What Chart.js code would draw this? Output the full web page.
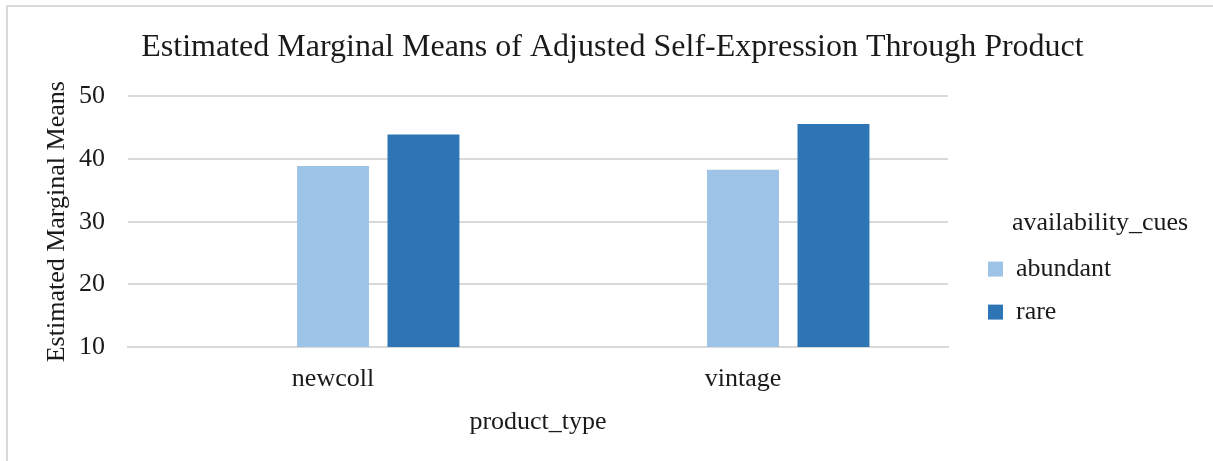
<!DOCTYPE html>
<html>
<head>
<meta charset="utf-8">
<script src="https://cdn.jsdelivr.net/npm/chart.js@4.4.1/dist/chart.umd.min.js"></script>
<style>
  html, body { margin: 0; padding: 0; background: #fff; }
  #wrap { position: relative; width: 1213px; height: 461px; }
  #frame { position: absolute; left: 6px; top: 5px; right: -10px; bottom: -10px;
           border-left: 2px solid #d9d9d9; border-top: 2px solid #d9d9d9; }
  canvas { position: absolute; left: 0; top: 0; }
</style>
</head>
<body>
<div id="wrap">
  <div id="frame"></div>
  <canvas id="chart" width="1213" height="461"></canvas>
</div>
<script>
const productTypes = ['newcoll', 'vintage'];
const abundant = [38.9, 38.3];
const rare = [43.9, 45.6];
// Excel left an empty first slot in each group
const spacer = [null, null];
const yTicks = [10, 20, 30, 40, 50];

const serif = "'Liberation Serif', 'Times New Roman', serif";
const textColor = '#1a1a1a';

// legend sits a bit right of the plot, title centred over the items
const legendPlacement = {
    id: 'legendPlacement',
    afterInit(chart) {
        const legend = chart.legend;
        const origFit = legend.fit.bind(legend);
        legend.fit = function () {
            origFit();
            this.width = 239;
        };
    },
    afterLayout(chart) {
        const legend = chart.legend;
        legend.left = 971;
        legend.width = 258;
        legend.right = 1229;
        legend.top += 50;
        legend.bottom += 50;
    }
};

const ctx = document.getElementById('chart').getContext('2d');

new Chart(ctx, {
    type: 'bar',
    data: {
        labels: productTypes,
        datasets: [
            { label: '', data: spacer, backgroundColor: 'rgba(0,0,0,0)' },
            { label: 'abundant', data: abundant, backgroundColor: '#9dc3e6' },
            { label: 'rare', data: rare, backgroundColor: '#2e75b6' }
        ]
    },
    plugins: [legendPlacement],
    options: {
        responsive: false,
        animation: false,
        categoryPercentage: 0.662,
        barPercentage: 0.795,
        layout: { padding: { left: 38, right: 26, top: 0, bottom: 21 } },
        plugins: {
            title: {
                display: true,
                text: 'Estimated Marginal Means of Adjusted Self-Expression Through Product',
                color: textColor,
                font: { family: serif, size: 32, weight: 'normal' },
                padding: { top: 28, bottom: 30 }
            },
            legend: {
                position: 'right',
                align: 'center',
                title: {
                    display: true,
                    text: 'availability_cues',
                    color: textColor,
                    font: { family: serif, size: 26 },
                    padding: { top: 12, bottom: -2 }
                },
                labels: {
                    color: textColor,
                    font: { family: serif, size: 26 },
                    boxWidth: 15,
                    boxHeight: 15,
                    padding: 17,
                    filter: item => item.text !== ''
                }
            },
            tooltip: { enabled: false }
        },
        scales: {
            x: {
                afterFit: axis => { axis.height = 93; },
                grid: { display: false },
                border: { color: '#d9d9d9', width: 2 },
                ticks: { color: textColor, font: { family: serif, size: 26 }, padding: 9 },
                title: {
                    display: true,
                    text: 'product_type',
                    color: textColor,
                    font: { family: serif, size: 26 },
                    padding: { top: 11, bottom: 2 }
                }
            },
            y: {
                min: 10,
                max: 50,
                afterBuildTicks: axis => { axis.ticks = yTicks.map(v => ({ value: v })); },
                afterFit: axis => { axis.width = 90; },
                grid: { color: '#d9d9d9', lineWidth: 2, drawTicks: false },
                border: { display: false },
                ticks: { color: textColor, font: { family: serif, size: 26 }, padding: 23 },
                title: {
                    display: true,
                    text: 'Estimated Marginal Means',
                    color: textColor,
                    font: { family: serif, size: 26 },
                    padding: { top: 4, bottom: 8 }
                }
            }
        }
    }
});
</script>
</body>
</html>
